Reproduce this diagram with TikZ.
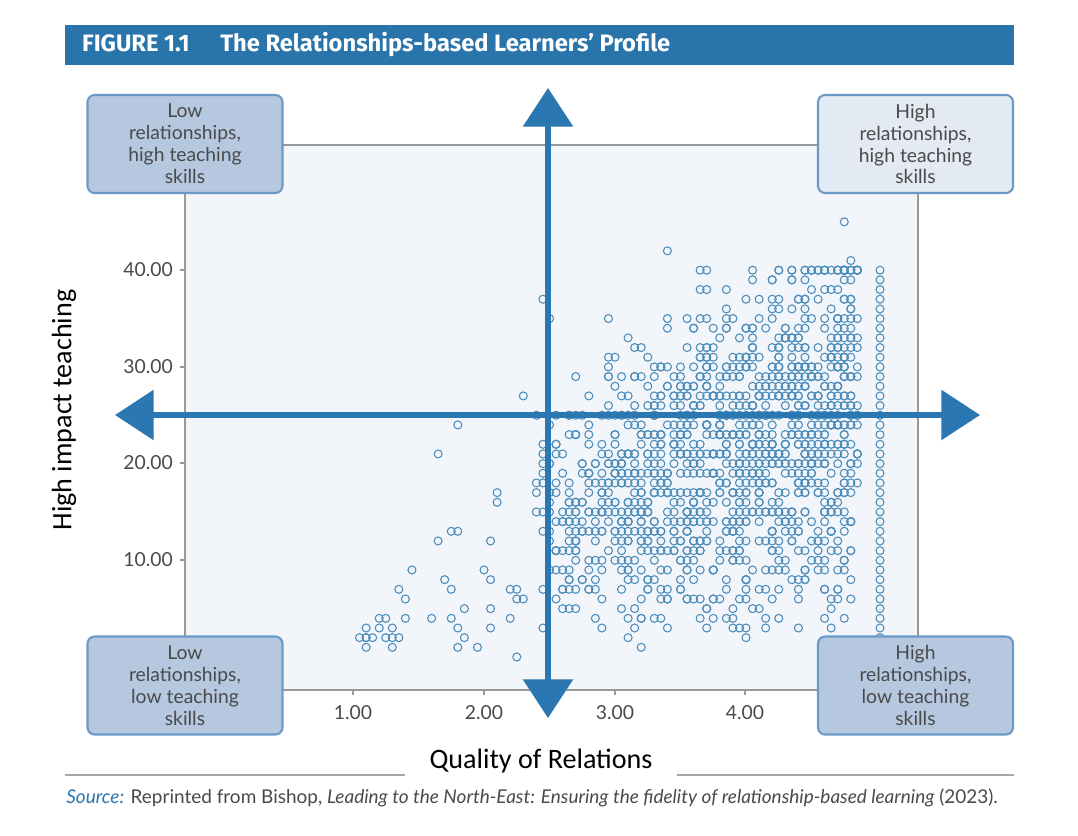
\documentclass[tikz,border=0pt]{standalone}
\usepackage{fontspec}
\setmainfont{Lato}
\newfontfamily\calib{Carlito}
\newfontfamily\hdrfont{Fira Sans}
\usetikzlibrary{arrows.meta}
\definecolor{hdr}{HTML}{2A74AC}
\definecolor{axb}{HTML}{2A77B2}
\definecolor{dot}{HTML}{4A8CBB}
\definecolor{plotbg}{HTML}{F2F5FA}
\definecolor{boxd}{HTML}{B5C8E0}
\definecolor{boxl}{HTML}{E3EAF3}
\definecolor{boxe}{HTML}{6A9AC8}
\definecolor{txt}{HTML}{4A4A4A}
\tikzset{
 corner/.style={draw=boxe,line width=1.2pt,rounded corners=4pt,minimum width=3.9cm,minimum height=1.96cm,align=center,font=\fontsize{11}{12.5}\selectfont,text=txt,inner sep=1pt},
 tick/.style={font=\fontsize{11}{12}\selectfont,text=txt},
 pt/.style={draw=dot,line width=0.6pt},
 bigarrow/.style={draw=axb,line width=3pt,{Triangle[length=22pt,width=28pt]}-{Triangle[length=22pt,width=28pt]}}
}
\begin{document}
\begin{tikzpicture}[x=0.02cm,y=-0.02cm]
\useasboundingbox (0,0) rectangle (1078,835);
\fill[white] (0,0) rectangle (1078,835);
% header
\fill[hdr] (65,25) rectangle (1014,65);
\node[anchor=west,text=white,font=\hdrfont\bfseries\fontsize{13.5}{14}\selectfont] (title) at (76,45) {FIGURE 1.1\hspace{1.3em}The Relationships-based Learners’ Profile};
% plot frame
\draw[fill=plotbg,draw=gray!80,line width=0.8pt] (185,145) rectangle (918,690);
% ticks
\foreach \v/\yy in {40.00/270,30.00/367,20.00/463,10.00/560}{
 \draw[gray!80,line width=0.8pt] (180,\yy) -- (185,\yy);
 \node[tick,anchor=east] at (179,\yy) {\v};
}
\foreach \v/\xx in {1.00/353,2.00/484,3.00/615,4.00/745}{
 \draw[gray!80,line width=0.8pt] (\xx,690) -- (\xx,695);
 \node[tick,anchor=north] at (\xx,699) {\v};
}
% points
\pgfmathsetseed{11}
\foreach \i in {1,...,1300}{
 \pgfmathsetmacro{\X}{2.4+2.45*(rnd^0.7)}
 \pgfmathsetmacro{\X}{round(\X*20)/20}
 \pgfmathsetmacro{\Y}{round(1+(0.5*rnd+0.5*rnd)*((\X-2)*10+22))}
 \pgfmathsetmacro{\Y}{min(\Y,40)}
 \draw[pt] ({222+131*\X},{657-9.67*\Y}) circle (4);
}
\foreach \i in {1,...,45}{
 \pgfmathsetmacro{\X}{1+1.45*rnd}
 \pgfmathsetmacro{\X}{round(\X*20)/20}
 \pgfmathsetmacro{\Y}{round(rnd*(\X-0.9)*16)}
 \draw[pt] ({222+131*\X},{657-9.67*\Y}) circle (4);
}
\foreach \Y in {2,...,40}{
 \draw[pt] (880,{657-9.67*\Y}) circle (4);
}
\foreach \X/\Y in {3.4/42,4.75/45,4.8/41,4.05/40,3.65/40,3.7/40,2.45/37,2.5/35,2.95/35,2.3/27,1.8/24,1.65/21}{
 \draw[pt] ({222+131*\X},{657-9.67*\Y}) circle (4);
}
% axes arrows
\coordinate (vt) at (548,88);
\coordinate (vb) at (548,718);
\coordinate (hl) at (115,415);
\coordinate (hr) at (980,415);
\draw[bigarrow] (vb) -- (vt);
\draw[bigarrow] (hl) -- (hr);
% corner boxes
\node[corner,fill=boxd] (tl) at (185,144) {Low\\relationships,\\high teaching\\skills};
\node[corner,fill=boxl] (tr) at (915.5,144) {High\\relationships,\\high teaching\\skills};
\node[corner,fill=boxd] (bl) at (185,685.5) {Low\\relationships,\\low teaching\\skills};
\node[corner,fill=boxd] (br) at (915.5,685.5) {High\\relationships,\\low teaching\\skills};
% axis labels
\node[rotate=90,font=\calib\fontsize{16}{18}\selectfont] (ylab) at (64,410) {High impact teaching};
\draw[gray!70,line width=0.6pt] (65,775) -- (1014,775);
\node[fill=white,font=\calib\fontsize{16}{18}\selectfont,inner xsep=14pt] (xlab) at (541,761) {Quality of Relations};
% source
\node[anchor=north west,align=justify,text width=18.95cm,font=\fontsize{10.8}{14.5}\selectfont,text=txt,inner sep=0pt] (src) at (66,788) {\textcolor{axb}{\itshape Source:} Reprinted from Bishop, \textit{Leading to the North-East: Ensuring the fidelity of relationship-based learning} (2023).};
\end{tikzpicture}
\end{document}
